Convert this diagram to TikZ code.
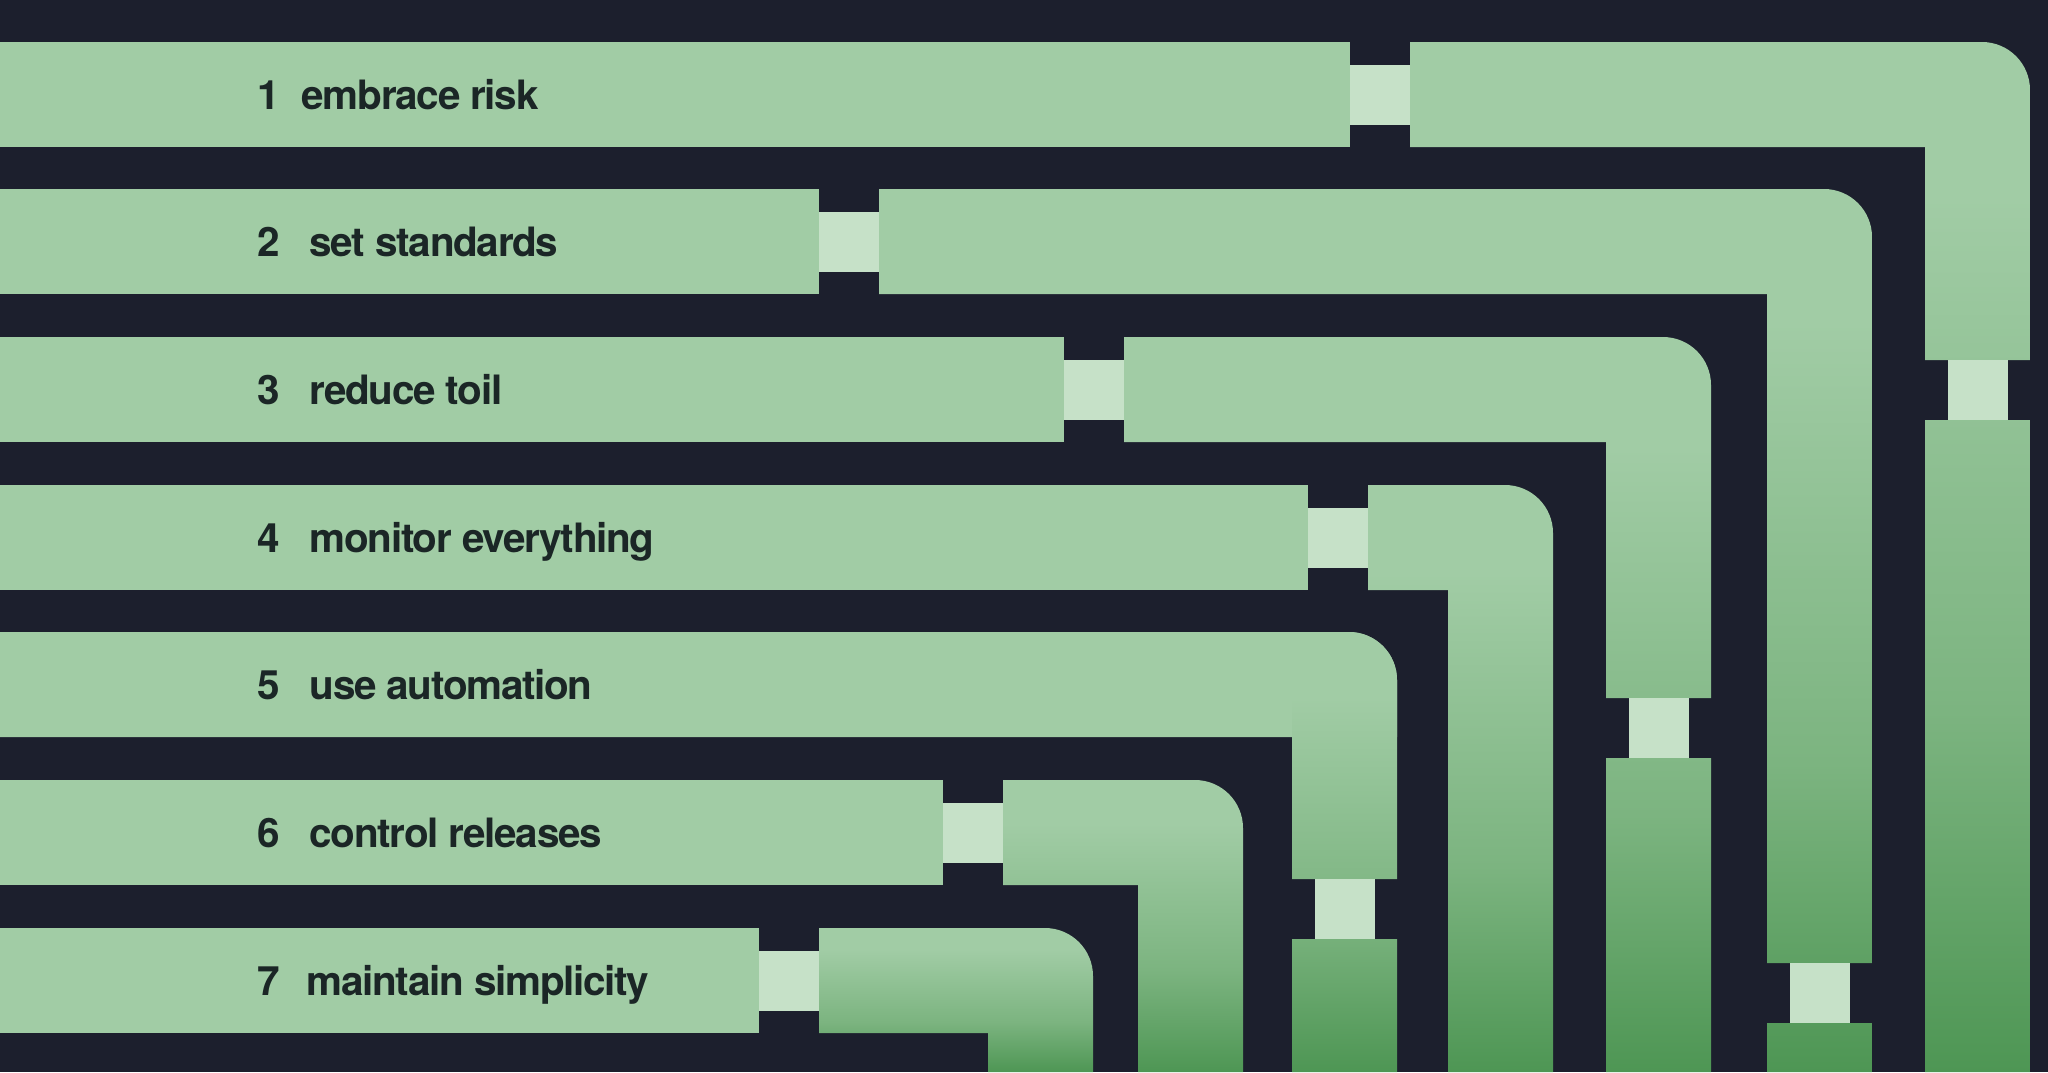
\documentclass[tikz,border=0pt]{standalone}
\usepackage{fontspec}
\setmainfont{TeX Gyre Heros}[LetterSpace=-3.2]
\definecolor{night}{HTML}{1C1F2D}
\definecolor{leaf}{HTML}{A1CCA5}
\definecolor{moss}{HTML}{7CB480}
\definecolor{fern}{HTML}{4E9654}
\definecolor{mint}{HTML}{C6E1C8}
\definecolor{ink}{HTML}{1B2626}
\pgfdeclareverticalshading{fall}{100bp}{color(0bp)=(fern); color(25bp)=(fern); color(42.5bp)=(moss); color(67.5bp)=(leaf); color(100bp)=(leaf)}

\begin{document}
\begin{tikzpicture}[
x=0.01cm, y=-0.01cm,
bar/.style={fill=leaf},
pipe/.style={shading=fall},
link/.style={fill=mint},
num/.style={anchor=base west, inner sep=0pt, text=ink, font=\fontsize{11.5pt}{13pt}\selectfont\bfseries},
lbl/.style={num},
]

% Background
\fill[night] (0,0) rectangle (2048,1072);

% 1 embrace risk
\fill[bar] (0,42) rectangle (1350,147);
\begin{scope}
\clip (1925,360) -- (1925,147) -- (1410,147) -- (1410,42) [rounded corners=4.8mm] -- (2030,42) [sharp corners] -- (2030,360) -- cycle
      (1925,420) rectangle (2030,1072);
\shade[pipe] (1410,42) rectangle (2030,1072);
\end{scope}
\fill[link] (1350,64.5) rectangle (1410,124.5);
\fill[link] (1947.5,360) rectangle (2007.5,420);
\node[num] (n1) at (257,109) {1};
\node[lbl] (t1) at (301,109) {embrace risk};

% 2 set standards
\fill[bar] (0,189) rectangle (819,294);
\begin{scope}
\clip (1767,963) -- (1767,294) -- (879,294) -- (879,189) [rounded corners=4.8mm] -- (1872,189) [sharp corners] -- (1872,963) -- cycle
      (1767,1023) rectangle (1872,1072);
\shade[pipe] (879,189) rectangle (1872,1072);
\end{scope}
\fill[link] (819,211.5) rectangle (879,271.5);
\fill[link] (1789.5,963) rectangle (1849.5,1023);
\node[num] (n2) at (257,256) {2};
\node[lbl] (t2) at (309,256) {set standards};

% 3 reduce toil
\fill[bar] (0,337) rectangle (1064,442);
\begin{scope}
\clip (1606,698) -- (1606,442) -- (1124,442) -- (1124,337) [rounded corners=4.8mm] -- (1711,337) [sharp corners] -- (1711,698) -- cycle
      (1606,758) rectangle (1711,1072);
\shade[pipe] (1124,337) rectangle (1711,1072);
\end{scope}
\fill[link] (1064,359.5) rectangle (1124,419.5);
\fill[link] (1628.5,698) rectangle (1688.5,758);
\node[num] (n3) at (257,404) {3};
\node[lbl] (t3) at (309,404) {reduce toil};

% 4 monitor everything
\fill[bar] (0,485) rectangle (1308,590);
\begin{scope}
\clip (1448,1072) -- (1448,590) -- (1368,590) -- (1368,485) [rounded corners=4.8mm] -- (1553,485) [sharp corners] -- (1553,1072) -- cycle;
\shade[pipe] (1368,485) rectangle (1553,1072);
\end{scope}
\fill[link] (1308,507.5) rectangle (1368,567.5);
\node[num] (n4) at (257,552) {4};
\node[lbl] (t4) at (309,552) {monitor everything};

% 5 use automation
\fill[bar] (1397,737) -- (0,737) -- (0,632) [rounded corners=4.8mm] -- (1397,632) [sharp corners] -- cycle;
\begin{scope}
\clip (1292,879) -- (1292,632) [rounded corners=4.8mm] -- (1397,632) [sharp corners] -- (1397,879) -- cycle
      (1292,939) rectangle (1397,1072);
\shade[pipe] (1292,632) rectangle (1397,1072);
\end{scope}
\fill[link] (1314.5,879) rectangle (1374.5,939);
\node[num] (n5) at (257,699) {5};
\node[lbl] (t5) at (309,699) {use automation};

% 6 control releases
\fill[bar] (0,780) rectangle (943,885);
\begin{scope}
\clip (1138,1072) -- (1138,885) -- (1003,885) -- (1003,780) [rounded corners=4.8mm] -- (1243,780) [sharp corners] -- (1243,1072) -- cycle;
\shade[pipe] (1003,780) rectangle (1243,1072);
\end{scope}
\fill[link] (943,802.5) rectangle (1003,862.5);
\node[num] (n6) at (257,847) {6};
\node[lbl] (t6) at (309,847) {control releases};

% 7 maintain simplicity
\fill[bar] (0,928) rectangle (759,1033);
\begin{scope}
\clip (988,1072) -- (988,1033) -- (819,1033) -- (819,928) [rounded corners=4.8mm] -- (1093,928) [sharp corners] -- (1093,1072) -- cycle;
\shade[pipe] (819,928) rectangle (1093,1072);
\end{scope}
\fill[link] (759,950.5) rectangle (819,1010.5);
\node[num] (n7) at (257,995) {7};
\node[lbl] (t7) at (306,995) {maintain simplicity};

\end{tikzpicture}
\end{document}
